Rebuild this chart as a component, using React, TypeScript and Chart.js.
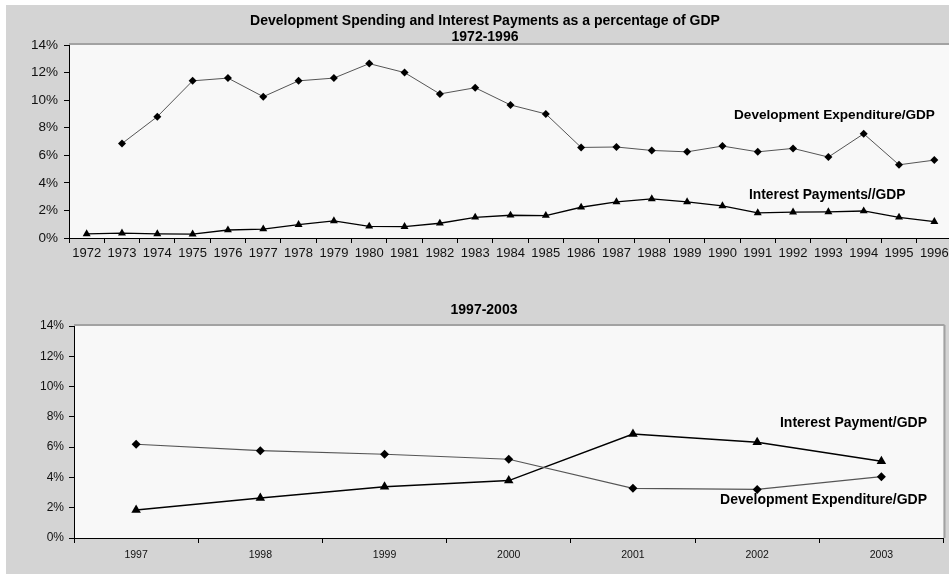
import React, { useEffect, useRef } from 'react';
import { Chart, registerables } from 'chart.js';
Chart.register(...registerables);

const FONT = '"Liberation Sans", Arial, sans-serif';

const years1 = ['1972','1973','1974','1975','1976','1977','1978','1979','1980','1981','1982','1983','1984','1985','1986','1987','1988','1989','1990','1991','1992','1993','1994','1995','1996'];
const devExp1 = [null, 6.85, 8.8, 11.4, 11.6, 10.25, 11.4, 11.6, 12.65, 12.0, 10.45, 10.9, 9.65, 9.0, 6.57, 6.6, 6.35, 6.25, 6.67, 6.25, 6.5, 5.87, 7.56, 5.31, 5.65];
const interest1 = [0.3, 0.35, 0.3, 0.28, 0.58, 0.65, 0.97, 1.24, 0.85, 0.82, 1.07, 1.5, 1.65, 1.63, 2.23, 2.62, 2.84, 2.62, 2.33, 1.82, 1.87, 1.89, 1.96, 1.5, 1.19];

const years2 = ['1997','1998','1999','2000','2001','2002','2003'];
const devExp2 = [6.19, 5.77, 5.53, 5.2, 3.28, 3.21, 4.05];
const interest2 = [1.85, 2.64, 3.39, 3.79, 6.87, 6.32, 5.07];

const yMin = 0;
const yMax = 14;
const yStep = 2;

const title1 = ['Development Spending and Interest Payments as a percentage of GDP', '1972-1996'];
const title2 = '1997-2003';
const devLabel1 = 'Development Expenditure/GDP';
const intLabel1 = 'Interest Payments//GDP';
const devLabel2 = 'Development Expenditure/GDP';
const intLabel2 = 'Interest Payment/GDP';

type TextItem = { text: string; x: number; y: number; align: CanvasTextAlign; size: number };

const decorPlugin = {
  id: 'decor',
  beforeDraw(chart: any, _args: any, opts: any) {
    const { ctx, chartArea: a } = chart;
    ctx.save();
    ctx.fillStyle = '#f8f8f8';
    ctx.fillRect(a.left, a.top, a.right - a.left, a.bottom - a.top);
    ctx.restore();
  },
  afterDraw(chart: any, _args: any, opts: any) {
    const { ctx, chartArea: a } = chart;
    ctx.save();
    ctx.strokeStyle = '#a2a2a2';
    ctx.lineWidth = 2;
    ctx.beginPath();
    ctx.moveTo(a.left, a.top - 1);
    ctx.lineTo(a.right + (opts.rightBorder ? 1 : 0), a.top - 1);
    if (opts.rightBorder) {
      ctx.moveTo(a.right + 1, a.top - 1);
      ctx.lineTo(a.right + 1, a.bottom);
    }
    ctx.stroke();
    const items: TextItem[] = opts.texts || [];
    ctx.fillStyle = '#000';
    ctx.textBaseline = 'middle';
    for (const t of items) {
      ctx.font = `bold ${t.size}px ${FONT}`;
      ctx.textAlign = t.align;
      ctx.fillText(t.text, t.x, t.y);
    }
    ctx.restore();
  },
};

function makeScales(xFont: number, yFont: number, yWidth: number, xHeight: number, yPad: number, xPad: number) {
  return {
    x: {
      type: 'category',
      offset: true,
      grid: { offset: true, drawOnChartArea: false, drawTicks: true, tickLength: 5, color: '#000', lineWidth: 1 },
      border: { display: true, color: '#000', width: 1 },
      ticks: { font: { family: FONT, size: xFont }, color: '#111', maxRotation: 0, autoSkip: false, padding: xPad },
      afterFit(scale: any) { scale.height = xHeight; },
    },
    y: {
      min: yMin,
      max: yMax,
      grid: { drawOnChartArea: false, drawTicks: true, tickLength: 5, color: '#000', lineWidth: 1 },
      border: { display: true, color: '#000', width: 1 },
      ticks: {
        stepSize: yStep,
        font: { family: FONT, size: yFont },
        color: '#111',
        padding: yPad,
        callback: (v: any) => `${v}%`,
      },
      afterFit(scale: any) { scale.width = yWidth; },
    },
  };
}

function TopChart() {
  const ref = useRef<HTMLCanvasElement>(null);
  useEffect(() => {
    const chart = new Chart(ref.current!, {
      type: 'line',
      data: {
        labels: years1,
        datasets: [
          {
            label: devLabel1,
            data: devExp1,
            borderColor: '#555',
            borderWidth: 1,
            pointStyle: 'rectRot',
            pointRadius: 4,
            pointBackgroundColor: '#000',
            pointBorderColor: '#000',
            pointBorderWidth: 0,
            tension: 0,
          },
          {
            label: intLabel1,
            data: interest1,
            borderColor: '#000',
            borderWidth: 1.3,
            pointStyle: 'triangle',
            pointRadius: 4.6,
            pointBackgroundColor: '#000',
            pointBorderColor: '#000',
            pointBorderWidth: 0,
            tension: 0,
          },
        ],
      },
      options: {
        responsive: false,
        animation: false,
        devicePixelRatio: 1,
        layout: { padding: { left: 0, top: 45, right: 8, bottom: 0 } },
        plugins: {
          legend: { display: false },
          tooltip: { enabled: false },
          decor: {
            rightBorder: false,
            texts: [
              { text: title1[0], x: 485, y: 21, align: 'center', size: 14 },
              { text: title1[1], x: 485, y: 37, align: 'center', size: 14 },
              { text: devLabel1, x: 734, y: 115, align: 'left', size: 13.6 },
              { text: intLabel1, x: 749, y: 195, align: 'left', size: 13.8 },
            ],
          },
        } as any,
        scales: makeScales(13, 13.5, 69, 32, 6, 3) as any,
      },
      plugins: [decorPlugin],
    });
    return () => chart.destroy();
  }, []);
  return <canvas ref={ref} width={960} height={270} style={{ position: 'absolute', left: 0, top: 0, width: 960, height: 270 }} />;
}

function BottomChart() {
  const ref = useRef<HTMLCanvasElement>(null);
  useEffect(() => {
    const chart = new Chart(ref.current!, {
      type: 'line',
      data: {
        labels: years2,
        datasets: [
          {
            label: devLabel2,
            data: devExp2,
            borderColor: '#555',
            borderWidth: 1.2,
            pointStyle: 'rectRot',
            pointRadius: 4.5,
            pointBackgroundColor: '#000',
            pointBorderColor: '#000',
            pointBorderWidth: 0,
            tension: 0,
          },
          {
            label: intLabel2,
            data: interest2,
            borderColor: '#000',
            borderWidth: 1.5,
            pointStyle: 'triangle',
            pointRadius: 5.5,
            pointBackgroundColor: '#000',
            pointBorderColor: '#000',
            pointBorderWidth: 0,
            tension: 0,
          },
        ],
      },
      options: {
        responsive: false,
        animation: false,
        devicePixelRatio: 1,
        layout: { padding: { left: 0, top: 56, right: 3, bottom: 0 } },
        plugins: {
          legend: { display: false },
          tooltip: { enabled: false },
          decor: {
            rightBorder: true,
            texts: [
              { text: title2, x: 484, y: 40, align: 'center', size: 14 },
              { text: intLabel2, x: 927, y: 153, align: 'right', size: 14 },
              { text: devLabel2, x: 927, y: 230, align: 'right', size: 14 },
            ],
          },
        } as any,
        scales: makeScales(10.5, 12, 74, 36, 5, 6) as any,
      },
      plugins: [decorPlugin],
    });
    return () => chart.destroy();
  }, []);
  return <canvas ref={ref} width={949} height={304} style={{ position: 'absolute', left: 0, top: 270, width: 949, height: 304 }} />;
}

export default function App() {
  return (
    <div style={{ position: 'fixed', left: 0, top: 0, width: 949, height: 574, overflow: 'hidden', background: '#fff' }}>
      <div style={{ position: 'absolute', left: 6, top: 5, right: 0, bottom: 0, background: '#d4d4d4' }} />
      <TopChart />
      <BottomChart />
    </div>
  );
}
